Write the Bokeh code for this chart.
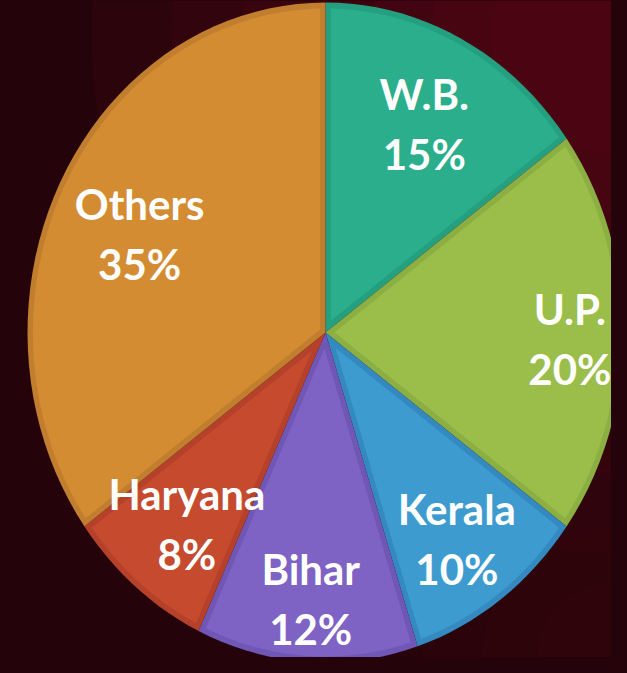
import math
from bokeh.plotting import figure
from bokeh.models import ColumnDataSource, GlobalInlineStyleSheet
from bokeh.core.properties import value
from bokeh.embed import file_html
from bokeh.resources import INLINE

# ---- data ----
states = ["W.B.", "U.P.", "Kerala", "Bihar", "Haryana", "Others"]
shares = [15, 20, 10, 12, 8, 35]
fill_colors = ["#2AAE8B", "#9BBE4B", "#3E9BCF", "#7E62C4", "#C54A2E", "#D48C32"]
edge_colors = ["#24A081", "#8BAF42", "#348AC0", "#7057B6", "#B5412A", "#C07E2E"]

# ---- layout constants ----
W, H = 611, 657
CX_PX, CY_PX = 325, 332          # pie centre in frame pixels (from top-left)
RX_PX, RY_PX = 298, 330          # pie radii in pixels (stretched pie)
label_r = [0.73, 0.82, 0.75, 0.79, 0.73, 0.70]
BORDER = 0.018                   # border width in unit-radius space
BG = "#24040a"

x0 = -CX_PX / RX_PX
x1 = (W - CX_PX) / RX_PX
y1 = CY_PX / RY_PX
y0 = -(H - CY_PX) / RY_PX

p = figure(width=W, height=H, x_range=(x0, x1), y_range=(y0, y1),
           output_backend="svg", toolbar_location=None, min_border=0,
           background_fill_color=BG, border_fill_color=BG,
           outline_line_color=None)
p.axis.visible = False
p.grid.visible = False
p.stylesheets = [GlobalInlineStyleSheet(css="body{background:%s;}" % BG)]

# soft reddish glow toward the upper right of the background
glow_r = [520, 440, 370, 300, 240, 180, 120]
p.scatter(x=[x1] * len(glow_r), y=[y1 - 0.1] * len(glow_r), size=[2 * r for r in glow_r],
          marker="circle", fill_color="#7a0c1e", fill_alpha=0.09, line_color=None)
p.scatter(x=[x1] * 4, y=[y0] * 4, size=[500, 380, 260, 150],
          marker="circle", fill_color="#5a0812", fill_alpha=0.07, line_color=None)


def pt(theta, r):
    # theta measured clockwise from 12 o'clock
    return r * math.sin(theta), r * math.cos(theta)


outer_xs, outer_ys, inner_xs, inner_ys = [], [], [], []
lab_x, lab_y = [], []
total = float(sum(shares))
cum = 0.0
for i, s in enumerate(shares):
    a0 = 2 * math.pi * cum / total
    a1 = 2 * math.pi * (cum + s) / total
    cum += s
    n = max(8, int(120 * s / total) + 4)
    xs, ys = [0.0], [0.0]
    for k in range(n + 1):
        x, y = pt(a0 + (a1 - a0) * k / n, 1.0)
        xs.append(x); ys.append(y)
    outer_xs.append(xs); outer_ys.append(ys)
    h = (a1 - a0) / 2
    mid = a0 + h
    d = BORDER
    sft = d / math.sin(h)
    R = 1.0 - d
    t = math.sqrt(R * R - d * d)
    dl = math.atan2(d, t)
    ax, ay = pt(mid, sft)
    xs, ys = [ax], [ay]
    for k in range(n + 1):
        x, y = pt(a0 + dl + (a1 - a0 - 2 * dl) * k / n, R)
        xs.append(x); ys.append(y)
    inner_xs.append(xs); inner_ys.append(ys)
    lx, ly = pt(mid, label_r[i])
    lab_x.append(lx); lab_y.append(ly)

p.patches(xs=outer_xs, ys=outer_ys, fill_color=edge_colors, line_color=None)
p.patches(xs=inner_xs, ys=inner_ys, fill_color=fill_colors, line_color=None)

labels = ColumnDataSource(dict(x=lab_x, y=lab_y, name=states,
                               pct=[f"{v}%" for v in shares]))
common = dict(text_font=value("Lato"), text_font_style="bold",
              text_font_size="42px", text_color="white",
              text_align="center", text_baseline="middle")
p.text(x="x", y="y", text="name", source=labels, y_offset=-24, **common)
p.text(x="x", y="y", text="pct", source=labels, y_offset=36, **common)

open("out.html", "w").write(file_html(p, INLINE))
